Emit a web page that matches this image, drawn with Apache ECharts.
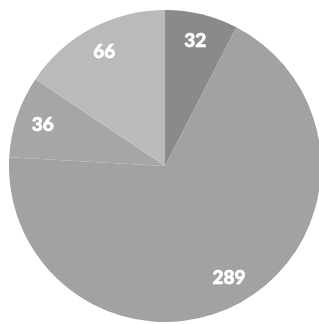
<!DOCTYPE html>
<html>
<head>
<meta charset="utf-8">
<script src="https://cdn.jsdelivr.net/npm/echarts@6/dist/echarts.min.js"></script>
<style>html,body{margin:0;padding:0;background:#fff;}#c{width:319px;height:324px;}</style>
</head>
<body>
<div id="c"></div>
<script>
const categories = ['A', 'B', 'C', 'D'];
const values = [32, 289, 36, 66];
const colors = ['#8a8a8a', '#a2a2a2', '#a6a6a6', '#bababa'];

const data = categories.map((c, i) => ({ name: c, value: values[i], itemStyle: { color: colors[i] } }));
const labelData = categories.map((c, i) => ({ name: c, value: values[i] }));

const chart = echarts.init(document.getElementById('c'), null, { renderer: 'canvas' });
chart.setOption({
  backgroundColor: '#ffffff',
  animation: false,
  series: [
    {
      type: 'pie',
      center: [165, 166],
      radius: [0, 156],
      startAngle: 90,
      clockwise: true,
      data: data,
      label: { show: false },
      labelLine: { show: false },
      itemStyle: { borderWidth: 0 },
      silent: true
    },
    {
      type: 'pie',
      center: [165, 166],
      radius: [96, 156],
      startAngle: 90,
      clockwise: true,
      data: labelData,
      itemStyle: { color: 'rgba(0,0,0,0)', borderWidth: 0 },
      label: {
        show: true,
        position: 'inside',
        formatter: '{c}',
        color: '#ffffff',
        fontFamily: 'Lato',
        fontWeight: 900,
        fontSize: 19,
        textBorderColor: '#ffffff',
        textBorderWidth: 0.6
      },
      labelLine: { show: false },
      silent: true
    }
  ]
});
</script>
</body>
</html>
